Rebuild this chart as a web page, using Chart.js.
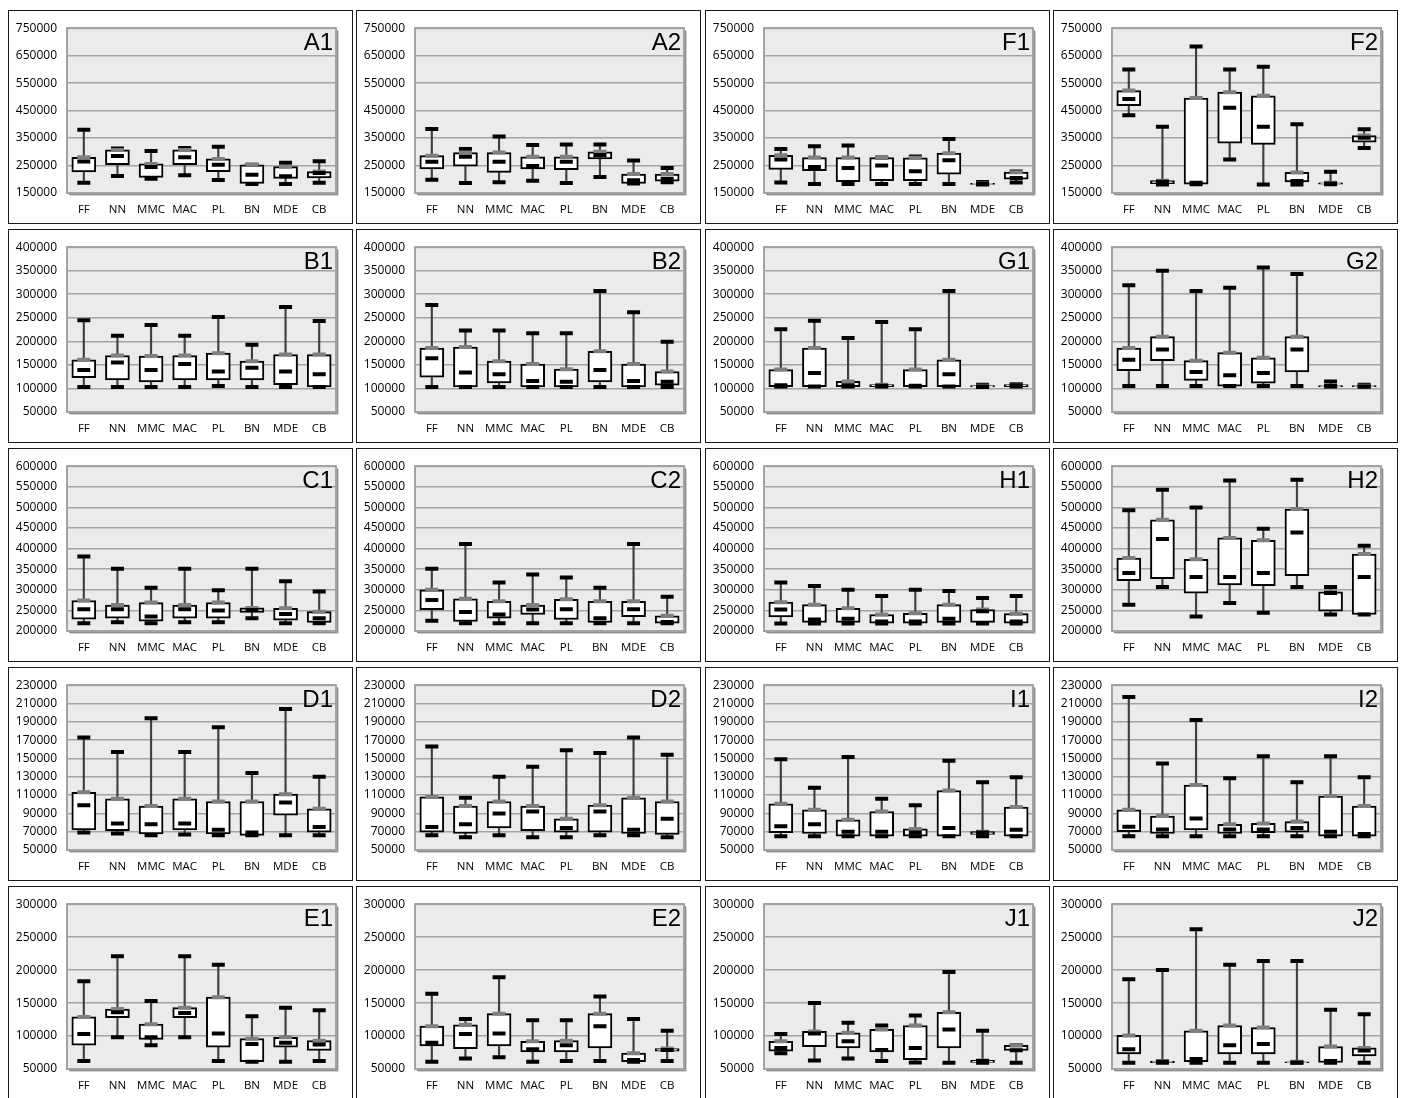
<!DOCTYPE html>
<html>
<head>
<meta charset="utf-8">
<script src="https://cdn.jsdelivr.net/npm/chart.js@4/dist/chart.umd.min.js"></script>
<style>
  body { margin: 0; background: #fff; width: 1402px; height: 1098px; overflow: hidden; position: relative; }
  .panel { position: absolute; width: 345px; height: 214px; box-sizing: border-box; border: 1px solid #1a1a1a; background: #fff; }
  .panel canvas { position: absolute; left: 0; top: 0; }
</style>
</head>
<body>
<script>
const categories = ["FF", "NN", "MMC", "MAC", "PL", "BN", "MDE", "CB"];

// one box per category: [min, q1, median, q3, max]
const A1 = [[187000,227000,265000,280000,380000],[212000,253000,285000,307000,312000],[202000,207000,245000,256000,303000],[215000,253000,280000,307000,314000],[197000,228000,253000,274000,318000],[183000,185000,216000,253000,253000],[183000,203000,211000,246000,260000],[187000,205000,223000,228000,266000]];
const A2 = [[198000,238000,264000,286000,383000],[186000,248000,282000,297000,310000],[189000,225000,264000,297000,356000],[195000,238000,248000,282000,325000],[186000,235000,264000,282000,327000],[208000,274000,288000,300000,327000],[185000,185000,196000,219000,268000],[189000,193000,202000,219000,241000]];
const F1 = [[188000,236000,272000,287000,310000],[183000,231000,245000,279000,320000],[183000,191000,241000,279000,323000],[183000,195000,250000,279000,279000],[183000,195000,229000,278000,283000],[183000,219000,269000,295000,347000],[181000,181000,183000,185000,190000],[188000,200000,205000,226000,228000]];
const F2 = [[433000,468000,492000,523000,600000],[181000,184000,191000,195000,391000],[182000,182000,187000,496000,683000],[272000,331000,460000,517000,600000],[181000,327000,391000,504000,610000],[181000,190000,194000,225000,400000],[182000,182000,185000,187000,227000],[314000,335000,351000,359000,382000]];

const B1 = [[103000,123000,139000,161000,245000],[103000,118000,155000,170000,212000],[103000,114000,139000,169000,235000],[103000,118000,152000,170000,212000],[105000,118000,136000,175000,252000],[103000,118000,144000,158000,193000],[103000,108000,136000,172000,273000],[103000,103000,130000,172000,243000]];
const B2 = [[103000,124000,164000,186000,277000],[103000,103000,134000,188000,223000],[103000,112000,130000,158000,223000],[103000,103000,116000,152000,217000],[103000,103000,114000,141000,217000],[103000,114000,139000,179000,307000],[103000,103000,116000,152000,262000],[103000,107000,114000,136000,199000]];
const G1 = [[104000,104000,107000,140000,226000],[104000,104000,133000,186000,244000],[104000,104000,107000,115000,207000],[104000,104000,106000,108000,241000],[104000,104000,106000,140000,226000],[104000,104000,130000,161000,307000],[103000,103000,104000,106000,108000],[104000,104000,107000,108000,109000]];
const G2 = [[105000,138000,161000,186000,319000],[105000,159000,183000,210000,350000],[105000,117000,135000,159000,307000],[105000,105000,128000,176000,314000],[105000,111000,133000,165000,357000],[105000,135000,183000,210000,343000],[104000,104000,105000,106000,115000],[104000,104000,104000,106000,108000]];

const C1 = [[219000,229000,253000,274000,381000],[221000,231000,253000,263000,351000],[219000,224000,235000,269000,305000],[221000,231000,253000,263000,351000],[221000,231000,250000,269000,299000],[231000,245000,251000,256000,351000],[219000,226000,241000,255000,321000],[219000,221000,231000,247000,296000]];
const C2 = [[225000,252000,275000,300000,351000],[219000,223000,246000,278000,411000],[219000,231000,240000,272000,318000],[219000,240000,252000,263000,337000],[219000,228000,253000,277000,330000],[219000,221000,231000,272000,305000],[219000,235000,253000,272000,411000],[219000,219000,222000,237000,283000]];
const H1 = [[218000,234000,252000,270000,318000],[218000,221000,228000,264000,309000],[218000,221000,230000,255000,300000],[218000,219000,223000,240000,285000],[218000,219000,223000,243000,300000],[218000,221000,230000,264000,297000],[218000,221000,248000,252000,280000],[218000,219000,223000,242000,285000]];
const H2 = [[264000,322000,341000,377000,493000],[307000,327000,423000,470000,543000],[235000,292000,331000,374000,500000],[268000,312000,331000,426000,565000],[244000,310000,341000,420000,448000],[307000,334000,439000,496000,567000],[240000,248000,292000,295000,307000],[240000,240000,331000,387000,407000]];

const D1 = [[69000,72000,99000,113000,173000],[68000,71000,79000,106000,157000],[66000,67500,78000,98000,194000],[67000,72000,79000,106000,157000],[66000,67500,72000,103000,184000],[66000,66000,69000,103000,134000],[66000,88000,102000,111000,204000],[66000,69500,75000,95000,130000]];
const D2 = [[66000,69500,75000,108000,163000],[64000,68000,78000,98000,107000],[66000,74000,90000,103000,130000],[64000,71000,92000,98000,141000],[64000,69500,74000,84000,159000],[66000,69500,92000,99000,156000],[66000,68000,72000,107000,173000],[64000,67000,84000,103000,154000]];
const I1 = [[65000,69000,76000,100500,149000],[65000,68000,78000,94000,118000],[65000,65000,70000,83000,151500],[65000,65000,70000,92000,106000],[65000,65000,69000,73000,99000],[65000,65000,74000,115000,147500],[65000,67000,69000,70000,124000],[65000,65000,72000,97000,129500]];
const I2 = [[65000,70000,75500,94000,217000],[65000,68000,72500,87000,144500],[65000,72000,84500,121000,192000],[65000,68000,72500,78000,128500],[65000,69000,72500,79000,152500],[65000,69500,74000,81000,124000],[65000,65000,70000,109000,152500],[65000,65000,67500,98000,129500]];

const E1 = [[62000,86000,103000,129000,183000],[98000,128000,136000,141000,221000],[86000,95000,98000,118000,153000],[98000,128000,135000,143000,221000],[62000,83000,104000,159000,208000],[61000,61000,88000,96000,130000],[61000,83000,90000,98000,143000],[62000,78000,87000,93000,139000]];
const E2 = [[61000,85000,90000,115000,164000],[66000,81000,103000,117000,126000],[68000,85000,104000,134000,189000],[61000,76000,80000,92000,124000],[62000,76000,86000,93000,124000],[62000,82000,115000,134000,160000],[61000,61000,63500,74000,126000],[62000,77000,79000,81000,108000]];
const J1 = [[74000,77000,82000,92000,103000],[63000,84000,104000,107000,150000],[66000,82000,92000,105000,120000],[62000,76000,79000,110000,116000],[60000,64000,82000,116000,131000],[59500,82000,110000,136000,197000],[59500,60000,62000,63000,108000],[59500,78000,78500,86000,86000]];
const J2 = [[59500,73000,80000,101000,186000],[59500,59500,61000,62000,200000],[59500,61000,65000,108000,262000],[59500,73000,86000,116000,208000],[59500,73000,88000,113000,214000],[59500,59500,60000,61000,214000],[59500,60000,62000,84000,140000],[59500,70000,78000,82000,133000]];

// panels row by row, and the y axis of each row
const panelRows = [["A1", "A2", "F1", "F2"], ["B1", "B2", "G1", "G2"], ["C1", "C2", "H1", "H2"], ["D1", "D2", "I1", "I2"], ["E1", "E2", "J1", "J2"]];
const yMin = [150000, 50000, 200000, 50000, 50000];
const yMax = [750000, 400000, 600000, 230000, 300000];
const yStep = [100000, 50000, 50000, 20000, 50000];

const boxes = { A1, A2, F1, F2, B1, B2, G1, G2, C1, C2, H1, H2, D1, D2, I1, I2, E1, E2, J1, J2 };

// page layout
const colLeft = [8, 356, 705, 1053];
const rowTop = [10, 229, 448, 667, 886];
const yFont = { family: "'Open Sans', 'DejaVu Sans Condensed', sans-serif", size: 12 };
const xFont = { family: "'Open Sans', 'DejaVu Sans Condensed', sans-serif", size: 11.5 };

const plotFrame = {
  id: "plotFrame",
  beforeDraw(chart) {
    const { ctx, chartArea: a } = chart;
    ctx.save();
    ctx.fillStyle = "#ebebeb";
    ctx.fillRect(a.left, a.top, a.right - a.left, a.bottom - a.top);
    ctx.restore();
  },
  beforeDatasetsDraw(chart) {
    const { ctx, chartArea: a } = chart;
    ctx.save();
    ctx.strokeStyle = "#a3a3a3";
    ctx.lineWidth = 2;
    ctx.strokeRect(a.left, a.top, a.right - a.left, a.bottom - a.top);
    // little shadow right and below
    ctx.strokeStyle = "#8c8c8c";
    ctx.lineWidth = 1;
    ctx.beginPath();
    ctx.moveTo(a.right + 1.5, a.top + 2);
    ctx.lineTo(a.right + 1.5, a.bottom + 1.5);
    ctx.lineTo(a.left + 2, a.bottom + 1.5);
    ctx.stroke();
    ctx.strokeStyle = "#d4d4d4";
    ctx.beginPath();
    ctx.moveTo(a.right + 2.5, a.top + 3);
    ctx.lineTo(a.right + 2.5, a.bottom + 2.5);
    ctx.lineTo(a.left + 3, a.bottom + 2.5);
    ctx.stroke();
    ctx.restore();
  },
  afterDraw(chart, args, opts) {
    const { ctx, chartArea: a } = chart;
    ctx.save();
    ctx.font = "24px 'Liberation Sans', Arial, sans-serif";
    ctx.fillStyle = "#000";
    ctx.textAlign = "right";
    ctx.textBaseline = "alphabetic";
    ctx.fillText(opts.label, a.right - 3, a.top + 22);
    ctx.restore();
  }
};

const pick = (rows, k) => rows.map(r => r[k]);

function mark(label, data, color, order) {
  return {
    type: "line", label, data, order,
    showLine: false,
    pointStyle: "line",
    pointRadius: 6.5,
    pointHoverRadius: 6.5,
    pointBorderWidth: 4,
    pointBorderColor: color,
    pointBackgroundColor: color
  };
}

panelRows.forEach((names, r) => {
  names.forEach((name, c) => {
    const div = document.createElement("div");
    div.className = "panel";
    div.style.left = colLeft[c] + "px";
    div.style.top = rowTop[r] + "px";
    const cv = document.createElement("canvas");
    cv.width = 343;
    cv.height = 212;
    div.appendChild(cv);
    document.body.appendChild(div);

    const rows = boxes[name];
    new Chart(cv, {
      type: "bar",
      data: {
        labels: categories,
        datasets: [
          mark("median", pick(rows, 2), "#000", 0),
          mark("q3", pick(rows, 3), "#7f7f7f", 1),
          mark("max", pick(rows, 4), "#000", 2),
          mark("min", pick(rows, 0), "#000", 3),
          {
            label: "box", order: 4,
            data: rows.map(b => [b[1], b[3]]),
            backgroundColor: "#fff",
            borderColor: "#000",
            borderWidth: 2,
            borderSkipped: false,
            barThickness: 24,
            grouped: false
          },
          {
            label: "whisker", order: 5,
            data: rows.map(b => [b[0], b[4]]),
            backgroundColor: "#404040",
            barThickness: 1.5,
            grouped: false
          }
        ]
      },
      options: {
        responsive: false,
        animation: false,
        events: [],
        layout: { padding: { top: 17, right: 16, left: 0, bottom: 0 } },
        plugins: {
          legend: { display: false },
          tooltip: { enabled: false },
          plotFrame: { label: name }
        },
        scales: {
          x: {
            grid: { display: false, drawTicks: false },
            border: { display: false },
            ticks: { font: xFont, color: "#000", padding: 10, autoSkip: false, maxRotation: 0 },
            afterFit: s => { s.height = 30; }
          },
          y: {
            min: yMin[r],
            max: yMax[r],
            grid: { color: "#a3a3a3", lineWidth: 1.6, drawTicks: false },
            border: { display: false },
            ticks: { stepSize: yStep[r], autoSkip: false, font: yFont, color: "#000", padding: 10, callback: v => String(v) },
            afterFit: s => { s.width = 58; }
          }
        }
      },
      plugins: [plotFrame]
    });
  });
});
</script>
</body>
</html>
